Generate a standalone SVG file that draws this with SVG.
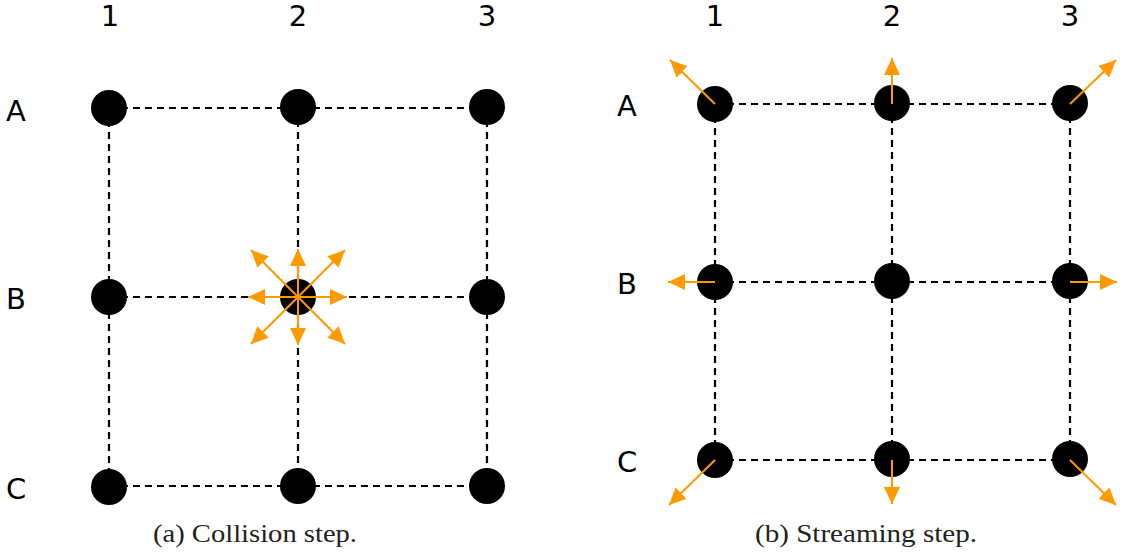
<svg xmlns="http://www.w3.org/2000/svg" width="1125" height="559" viewBox="0 0 1125 559">
<style>
.grid{stroke:#000;stroke-width:2.2;stroke-dasharray:7,5;fill:none}
.node{fill:#000}
.lbl{font-family:"DejaVu Sans",sans-serif;font-size:29px;fill:#000;text-anchor:middle}
.cap{font-family:"Liberation Serif",serif;font-size:26px;fill:#222;text-anchor:middle}
.arr{stroke:#FF9900;stroke-width:2;fill:none;marker-end:url(#ah)}
</style>
<defs>
<marker id="ah" markerUnits="userSpaceOnUse" markerWidth="19" markerHeight="17" refX="17" refY="8" orient="auto">
<path d="M0,0 L17,8 L0,16 z" fill="#FF9900"/>
</marker>
</defs>
<rect width="1125" height="559" fill="#fff"/>
<g id="connectors">
<path class="grid" d="M109,108H487M109,297H487M109,486H487M109,108V486M298,108V486M487,108V486"/>
<path class="grid" d="M715,104H1070M715,282H1070M715,460H1070M715,104V460M892,104V460M1070,104V460"/>
</g>
<g id="nodes-a">
<circle id="a-A1" class="node" cx="109" cy="108" r="18"/>
<circle id="a-A2" class="node" cx="298" cy="107" r="18"/>
<circle id="a-A3" class="node" cx="487" cy="107" r="18"/>
<circle id="a-B1" class="node" cx="109" cy="297" r="18"/>
<circle id="a-B2" class="node" cx="298" cy="297" r="18"/>
<circle id="a-B3" class="node" cx="487" cy="297" r="18"/>
<circle id="a-C1" class="node" cx="109" cy="487" r="18"/>
<circle id="a-C2" class="node" cx="298" cy="486" r="18"/>
<circle id="a-C3" class="node" cx="487" cy="486" r="18"/>
</g>
<g id="nodes-b">
<circle id="b-A1" class="node" cx="715" cy="104" r="18"/>
<circle id="b-A2" class="node" cx="892" cy="103" r="18"/>
<circle id="b-A3" class="node" cx="1070" cy="103" r="18"/>
<circle id="b-B1" class="node" cx="715" cy="282" r="18"/>
<circle id="b-B2" class="node" cx="892" cy="281" r="18"/>
<circle id="b-B3" class="node" cx="1070" cy="281" r="18"/>
<circle id="b-C1" class="node" cx="715" cy="460" r="18"/>
<circle id="b-C2" class="node" cx="892" cy="459" r="18"/>
<circle id="b-C3" class="node" cx="1070" cy="459" r="18"/>
</g>
<g id="arrows-a">
<line class="arr" x1="298" y1="297" x2="298" y2="249"/>
<line class="arr" x1="298" y1="297" x2="298" y2="345"/>
<line class="arr" x1="298" y1="297" x2="248" y2="297"/>
<line class="arr" x1="298" y1="297" x2="347" y2="297"/>
<line class="arr" x1="298" y1="297" x2="251" y2="250"/>
<line class="arr" x1="298" y1="297" x2="345" y2="250"/>
<line class="arr" x1="298" y1="297" x2="251" y2="344"/>
<line class="arr" x1="298" y1="297" x2="345" y2="344"/>
</g>
<g id="arrows-b">
<line class="arr" x1="715" y1="104" x2="670" y2="60"/>
<line class="arr" x1="892" y1="104" x2="892" y2="58"/>
<line class="arr" x1="1070" y1="104" x2="1116" y2="60"/>
<line class="arr" x1="715" y1="282" x2="668" y2="282"/>
<line class="arr" x1="1070" y1="282" x2="1117" y2="282"/>
<line class="arr" x1="715" y1="460" x2="669" y2="505"/>
<line class="arr" x1="892" y1="460" x2="892" y2="504"/>
<line class="arr" x1="1070" y1="460" x2="1116" y2="505"/>
</g>
<g id="labels">
<text class="lbl" x="110" y="26">1</text>
<text class="lbl" x="298" y="26">2</text>
<text class="lbl" x="487" y="26">3</text>
<text class="lbl" x="16" y="121">A</text>
<text class="lbl" x="16" y="309">B</text>
<text class="lbl" x="16" y="499">C</text>
<text class="lbl" x="715" y="26">1</text>
<text class="lbl" x="892" y="26">2</text>
<text class="lbl" x="1070" y="26">3</text>
<text class="lbl" x="627" y="116">A</text>
<text class="lbl" x="627" y="294">B</text>
<text class="lbl" x="627" y="472">C</text>
<text class="cap" x="255" y="542" textLength="204" lengthAdjust="spacingAndGlyphs">(a) Collision step.</text>
<text class="cap" x="866" y="542" textLength="222" lengthAdjust="spacingAndGlyphs">(b) Streaming step.</text>
</g>
</svg>
